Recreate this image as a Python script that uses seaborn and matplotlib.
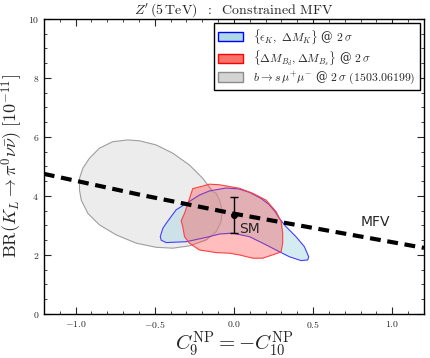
import numpy as np
import pandas as pd
import matplotlib
matplotlib.use("Agg")
import matplotlib.pyplot as plt
from matplotlib.patches import Patch
from matplotlib.ticker import MultipleLocator, FuncFormatter
import seaborn as sns

# ---------------- data ----------------
grey_x = [-0.975, -0.975, -0.954, -0.912, -0.849, -0.765, -0.670, -0.596, -0.491, -0.386, -0.281, -0.197,
          -0.134, -0.112, -0.091, -0.074, -0.081, -0.112, -0.175, -0.281, -0.386, -0.491, -0.617, -0.743,
          -0.849, -0.922, -0.964]
grey_y = [4.20, 4.60, 4.94, 5.28, 5.62, 5.84, 5.90, 5.87, 5.73, 5.45, 5.05, 4.60,
          4.15, 4.09, 3.86, 3.53, 3.13, 2.79, 2.51, 2.31, 2.23, 2.26, 2.40, 2.68,
          3.02, 3.41, 3.86]

blue_x = [-0.465, -0.449, -0.428, -0.365, -0.30, -0.218, -0.155, -0.05, 0.03, 0.10, 0.17, 0.22, 0.26,
          0.287, 0.329, 0.392, 0.445, 0.472, 0.466, 0.424, 0.350, 0.287, 0.182, 0.098, -0.008,
          -0.091, -0.155, -0.30, -0.428, -0.459]
blue_y = [2.62, 2.90, 3.07, 3.53, 3.75, 4.03, 4.17, 4.27, 4.24, 4.12, 3.92, 3.72, 3.47,
          3.24, 2.96, 2.62, 2.28, 1.94, 1.83, 1.81, 1.94, 2.11, 2.40, 2.62, 2.74,
          2.71, 2.62, 2.45, 2.42, 2.50]

red_x = [-0.26, -0.20, -0.155, -0.091, 0.035, 0.119, 0.203, 0.266, 0.298, 0.308, 0.308, 0.298, 0.276,
         0.182, 0.119, 0.035, -0.028, -0.112, -0.218, -0.281, -0.312, -0.323, -0.333, -0.312, -0.29]
red_y = [4.25, 4.33, 4.40, 4.38, 4.26, 4.09, 3.86, 3.47, 3.13, 2.74, 2.40, 2.11, 2.06,
         1.89, 1.89, 2.00, 2.06, 2.08, 2.17, 2.40, 2.62, 2.96, 3.16, 3.41, 3.75]

mfv_x = [-1.2, -0.6, 0.0, 0.6, 1.2]
mfv_y = [4.75, 4.05, 3.40, 2.82, 2.24]

sm_x = [0.0]
sm_y = [3.36]
sm_err = [0.6]

legend_labels = [r"$\{\epsilon_K,\ \Delta M_K\}$ @ $2\,\sigma$",
                 r"$\{\Delta M_{B_d}, \Delta M_{B_s}\}$ @ $2\,\sigma$",
                 r"$b\to s\,\mu^{+}\mu^{-}$ @ $2\,\sigma$ $(1503.06199)$"]

# ---------------- style ----------------
sns.set_style("ticks")
plt.rcParams['font.family'] = ['DejaVu Serif']
plt.rcParams['mathtext.fontset'] = 'cm'
plt.rcParams['mathtext.rm'] = 'serif'

fig = plt.figure(figsize=(4.30, 3.58), dpi=100)
ax = fig.add_axes([0.102, 0.123, 0.884, 0.824])

ax.fill(grey_x, grey_y, facecolor=(0.87, 0.87, 0.87, 0.55), edgecolor=(0.62, 0.62, 0.62), lw=0.8, zorder=1)
ax.fill(blue_x, blue_y, facecolor=(0.68, 0.85, 0.90, 0.5), edgecolor=(0.25, 0.25, 1.0), lw=0.8, zorder=2)
ax.fill(red_x, red_y, facecolor=(1.0, 0.2, 0.2, 0.32), edgecolor=(1.0, 0.25, 0.25), lw=0.8, zorder=3)

df = pd.DataFrame({"x": mfv_x, "y": mfv_y})
sns.lineplot(data=df, x="x", y="y", ax=ax, color="black", lw=3, zorder=5)
ax.lines[-1].set_dashes((2.6, 1.6))

ax.errorbar(sm_x, sm_y, yerr=sm_err, fmt='o', color='black', ms=4, capsize=3, lw=1, zorder=6)
ax.text(0.03, 2.88, "SM", fontsize=10, family='DejaVu Sans', va='center', ha='left', zorder=7)
ax.text(0.80, 3.12, "MFV", fontsize=10, family='DejaVu Sans', va='center', ha='left', zorder=7)

ax.set_xlim(-1.2, 1.2)
ax.set_ylim(0, 10)
ax.xaxis.set_major_locator(MultipleLocator(0.5))
ax.xaxis.set_minor_locator(MultipleLocator(0.1))
ax.yaxis.set_major_locator(MultipleLocator(2))
ax.yaxis.set_minor_locator(MultipleLocator(0.5))
ax.xaxis.set_major_formatter(FuncFormatter(lambda v, p: r"$%.1f$" % v if abs(v) > 1e-9 else r"$0.0$"))
ax.yaxis.set_major_formatter(FuncFormatter(lambda v, p: r"$%d$" % round(v)))
ax.tick_params(which='both', direction='in', top=True, right=True, labelsize=7)
ax.tick_params(which='major', length=5, width=0.8)
ax.tick_params(which='minor', length=2.5, width=0.6)
for s in ax.spines.values():
    s.set_linewidth(1.0)
    s.set_color('black')

ax.set_xlabel(r"$C_9^{\rm NP} = -C_{10}^{\rm NP}$", fontsize=15, labelpad=0)
ax.set_ylabel(r"$\mathrm{BR}(K_L\to\pi^0\nu\bar\nu)\ [10^{-11}]$", fontsize=13, labelpad=2)
ax.set_title(r"$Z'\,(5\,\mathrm{TeV})\ \ :\ \ \mathrm{Constrained\ MFV}$", fontsize=10, pad=3)

handles = [Patch(facecolor=(0.68, 0.85, 0.90), edgecolor='blue', lw=1),
           Patch(facecolor=(0.98, 0.45, 0.42), edgecolor='red', lw=1),
           Patch(facecolor=(0.83, 0.83, 0.83), edgecolor=(0.55, 0.55, 0.55), lw=1)]
leg = ax.legend(handles, legend_labels, loc='upper right', fontsize=8.5, frameon=True,
                fancybox=False, edgecolor='black', framealpha=1,
                handlelength=2.1, handleheight=0.8, handletextpad=0.9,
                borderaxespad=0.35, labelspacing=0.2, borderpad=0.35)
leg.get_frame().set_linewidth(1.0)

fig.savefig("out.png", dpi=100)
